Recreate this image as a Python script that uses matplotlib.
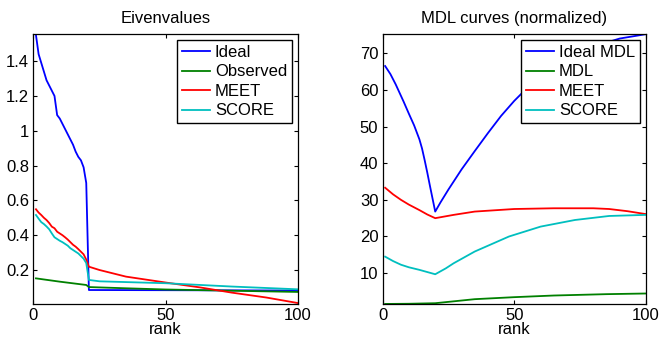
import matplotlib
matplotlib.use('Agg')
import matplotlib.pyplot as plt

plt.rcParams['font.family'] = ['Liberation Sans', 'DejaVu Sans']
plt.rcParams['font.size'] = 12

# colours as in the MATLAB default palette
c_blue = (0, 0, 1)
c_green = (0, 0.5, 0)
c_red = (1, 0, 0)
c_cyan = (0, 0.75, 0.75)

# ---- left panel: eigenvalues vs rank ----
ideal_x = [1, 2, 3, 4, 5, 6, 7, 8, 9, 10, 11, 12, 13, 14, 15, 16, 17, 18, 19, 20, 21, 50, 100]
ideal_y = [1.55, 1.44, 1.39, 1.34, 1.29, 1.26, 1.23, 1.20, 1.09, 1.07, 1.04, 1.01, 0.98, 0.95,
           0.92, 0.88, 0.85, 0.83, 0.79, 0.70, 0.085, 0.084, 0.082]

obs_x = [1, 10, 20, 21, 35, 50, 75, 100]
obs_y = [0.152, 0.133, 0.114, 0.102, 0.095, 0.088, 0.081, 0.074]

meet_x = [1, 2, 3, 4, 5, 6, 7, 8, 9, 10, 11, 12, 13, 14, 15, 16, 17, 18, 19, 20, 21,
          25, 35, 50, 63, 75, 88, 100]
meet_y = [0.549, 0.53, 0.516, 0.50, 0.487, 0.47, 0.449, 0.44, 0.42, 0.41, 0.40, 0.388,
          0.375, 0.36, 0.345, 0.334, 0.32, 0.305, 0.29, 0.26, 0.219,
          0.20, 0.162, 0.128, 0.10, 0.07, 0.042, 0.010]

score_x = [1, 2, 3, 4, 5, 6, 7, 8, 9, 10, 11, 12, 13, 14, 15, 16, 17, 18, 19, 20, 21,
           25, 50, 75, 100]
score_y = [0.516, 0.495, 0.475, 0.464, 0.45, 0.434, 0.41, 0.388, 0.378, 0.368, 0.36, 0.35,
           0.34, 0.325, 0.315, 0.305, 0.295, 0.28, 0.265, 0.24, 0.143,
           0.135, 0.124, 0.105, 0.089]

# ---- right panel: MDL curves ----
imdl_x = [1, 3, 5, 8, 10, 12, 14, 15, 16, 17, 18, 19, 20, 22, 25, 30, 35, 40, 45, 50,
          55, 60, 70, 80, 90, 100]
imdl_y = [66.5, 64.3, 61.5, 56.8, 53.5, 50.3, 46.5, 44.0, 40.8, 37.4, 33.8, 30.3, 26.8,
          29.3, 32.8, 38.3, 43.3, 48.2, 52.9, 57.0, 60.6, 63.6, 68.3, 71.8, 74.0, 75.2]

mdl_x = [1, 10, 20, 35, 50, 65, 85, 100]
mdl_y = [1.6, 1.65, 1.8, 2.9, 3.45, 3.9, 4.27, 4.45]

rmeet_x = [1, 4, 7, 10, 14, 17, 20, 27, 35, 50, 65, 80, 86, 93, 100]
rmeet_y = [33.3, 31.5, 30.0, 28.7, 27.2, 26.0, 25.0, 25.9, 26.8, 27.5, 27.7, 27.7, 27.5,
           26.9, 26.1]

rscore_x = [1, 4, 7, 10, 14, 17, 20, 24, 27, 35, 48, 60, 73, 86, 100]
rscore_y = [14.5, 13.3, 12.3, 11.6, 10.9, 10.3, 9.7, 11.3, 12.7, 15.9, 20.0, 22.7, 24.5,
            25.6, 25.9]

lw = 1.3

fig = plt.figure(figsize=(6.61, 3.45), dpi=100)
ax1 = fig.add_axes([0.0504, 0.119, 0.4004, 0.782])
ax2 = fig.add_axes([0.5787, 0.119, 0.3986, 0.782])

ax1.plot(ideal_x, ideal_y, color=c_blue, lw=lw, label='Ideal')
ax1.plot(obs_x, obs_y, color=c_green, lw=lw, label='Observed')
ax1.plot(meet_x, meet_y, color=c_red, lw=lw, label='MEET')
ax1.plot(score_x, score_y, color=c_cyan, lw=lw, label='SCORE')
ax1.set_xlim(0, 100)
ax1.set_ylim(0.005, 1.555)
ax1.set_yticks([0.2, 0.4, 0.6, 0.8, 1.0, 1.2, 1.4])
ax1.set_yticklabels(['0.2', '0.4', '0.6', '0.8', '1', '1.2', '1.4'])
ax1.set_title('Eivenvalues', pad=8, fontsize=12)

ax2.plot(imdl_x, imdl_y, color=c_blue, lw=lw, label='Ideal MDL')
ax2.plot(mdl_x, mdl_y, color=c_green, lw=lw, label='MDL')
ax2.plot(rmeet_x, rmeet_y, color=c_red, lw=lw, label='MEET')
ax2.plot(rscore_x, rscore_y, color=c_cyan, lw=lw, label='SCORE')
ax2.set_xlim(0, 100)
ax2.set_ylim(1.6, 75.2)
ax2.set_yticks([10, 20, 30, 40, 50, 60, 70])
ax2.set_title('MDL curves (normalized)', pad=8, fontsize=12)

for ax in (ax1, ax2):
    ax.set_xticks([0, 50, 100])
    ax.set_xlabel('rank', labelpad=-1)
    ax.tick_params(direction='in', length=3, width=0.8, top=True, right=True, pad=3)
    for sp in ax.spines.values():
        sp.set_linewidth(0.9)
    leg = ax.legend(loc='upper right', fancybox=False, framealpha=1, edgecolor='black',
                    borderaxespad=0.35, handlelength=1.7, handletextpad=0.3,
                    labelspacing=0.27, borderpad=0.3, fontsize=12)
    leg.get_frame().set_linewidth(1.0)

fig.savefig('out.png', dpi=100)
